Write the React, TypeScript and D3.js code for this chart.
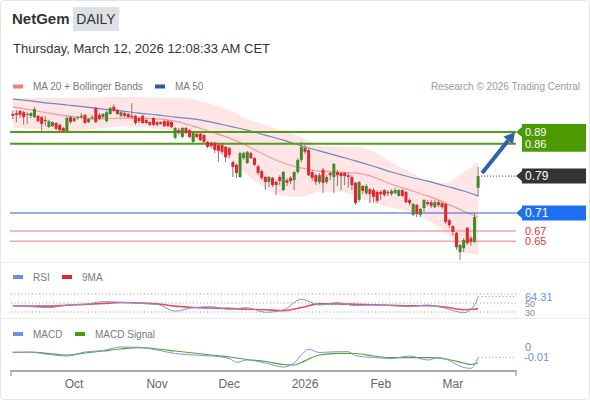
import React from 'react';
import * as d3 from 'd3';

const FONT = "'Liberation Sans', Arial, Helvetica, sans-serif";

// ---- candle data (daily, Sep 8 2025 .. Mar 11 2026) ----
const openP = [0.930,0.932,0.937,0.934,0.928,0.926,0.923,0.926,0.923,0.917,
0.901,0.903,0.910,0.906,0.899,0.892,0.923,0.914,0.921,0.923,
0.928,0.912,0.921,0.943,0.928,0.923,0.914,0.930,0.946,0.939,
0.926,0.932,0.930,0.926,0.926,0.921,0.926,0.917,0.912,0.921,
0.912,0.912,0.914,0.914,0.912,0.877,0.894,0.879,0.899,0.894,
0.868,0.886,0.886,0.883,0.868,0.866,0.866,0.861,0.861,0.857,
0.854,0.823,0.817,0.790,0.832,0.821,0.843,0.832,0.814,0.803,
0.790,0.779,0.788,0.779,0.790,0.761,0.783,0.788,0.783,0.801,
0.828,0.854,0.850,0.801,0.794,0.779,0.806,0.779,0.799,0.790,
0.801,0.799,0.799,0.794,0.790,0.777,0.739,0.770,0.754,0.763,
0.761,0.757,0.757,0.761,0.757,0.752,0.754,0.748,0.761,0.757,
0.739,0.706,0.728,0.706,0.721,0.734,0.734,0.723,0.734,0.732,
0.730,0.694,0.681,0.666,0.623,0.632,0.677,0.654,0.646,0.766];

const highP = [0.937,0.939,0.939,0.937,0.934,0.934,0.946,0.928,0.926,0.926,
0.917,0.914,0.912,0.908,0.901,0.926,0.926,0.923,0.926,0.932,
0.930,0.921,0.928,0.946,0.932,0.932,0.937,0.946,0.952,0.941,
0.937,0.934,0.932,0.954,0.928,0.923,0.928,0.919,0.914,0.923,
0.914,0.914,0.917,0.917,0.914,0.901,0.899,0.901,0.901,0.897,
0.890,0.888,0.888,0.886,0.870,0.868,0.868,0.866,0.863,0.859,
0.857,0.826,0.819,0.846,0.846,0.848,0.846,0.834,0.817,0.806,
0.792,0.792,0.790,0.783,0.794,0.803,0.788,0.792,0.803,0.832,
0.868,0.861,0.852,0.806,0.797,0.799,0.810,0.794,0.801,0.821,
0.806,0.801,0.801,0.799,0.794,0.779,0.781,0.772,0.774,0.766,
0.766,0.761,0.761,0.763,0.761,0.763,0.766,0.763,0.763,0.759,
0.743,0.732,0.730,0.721,0.741,0.739,0.739,0.739,0.739,0.734,
0.732,0.697,0.683,0.668,0.641,0.654,0.679,0.659,0.710,0.812];

const lowP = [0.919,0.912,0.921,0.906,0.908,0.921,0.921,0.912,0.892,0.903,
0.899,0.901,0.894,0.892,0.890,0.890,0.908,0.912,0.917,0.919,
0.908,0.910,0.917,0.910,0.917,0.921,0.912,0.928,0.934,0.928,
0.923,0.923,0.921,0.919,0.906,0.910,0.908,0.908,0.903,0.903,
0.903,0.906,0.901,0.901,0.899,0.874,0.883,0.877,0.886,0.877,
0.866,0.877,0.870,0.866,0.854,0.854,0.843,0.823,0.841,0.823,
0.832,0.790,0.788,0.788,0.828,0.819,0.830,0.814,0.794,0.783,
0.761,0.768,0.768,0.750,0.772,0.759,0.770,0.774,0.761,0.797,
0.823,0.841,0.792,0.781,0.772,0.774,0.754,0.774,0.783,0.754,
0.770,0.761,0.772,0.766,0.761,0.728,0.734,0.752,0.750,0.732,
0.734,0.732,0.739,0.746,0.748,0.748,0.752,0.746,0.746,0.732,
0.726,0.703,0.701,0.701,0.712,0.726,0.721,0.721,0.723,0.719,
0.686,0.677,0.659,0.628,0.606,0.623,0.639,0.637,0.643,0.746];

const closeP = [0.926,0.928,0.928,0.923,0.930,0.932,0.941,0.914,0.908,0.914,
0.914,0.912,0.897,0.894,0.892,0.921,0.912,0.921,0.923,0.926,
0.910,0.919,0.923,0.912,0.919,0.930,0.934,0.943,0.937,0.930,
0.934,0.926,0.923,0.923,0.910,0.914,0.910,0.910,0.906,0.906,
0.906,0.908,0.903,0.903,0.901,0.899,0.888,0.899,0.888,0.879,
0.888,0.879,0.872,0.868,0.857,0.859,0.850,0.848,0.846,0.834,
0.839,0.812,0.799,0.843,0.843,0.846,0.832,0.817,0.799,0.788,
0.779,0.790,0.772,0.772,0.781,0.801,0.777,0.781,0.801,0.828,
0.857,0.846,0.794,0.788,0.779,0.794,0.777,0.790,0.794,0.819,
0.794,0.792,0.792,0.790,0.772,0.732,0.779,0.759,0.770,0.752,
0.746,0.737,0.752,0.750,0.754,0.759,0.761,0.761,0.748,0.734,
0.732,0.730,0.708,0.719,0.739,0.730,0.726,0.734,0.728,0.723,
0.690,0.683,0.668,0.634,0.639,0.650,0.643,0.646,0.701,0.792];

// ---- indicator samples (candle index -> value) ----
const indSampleIdx = [0,5,10,15,20,25,30,35,40,45,50,55,60,65,70,75,80,85,90,95,100,105,110,115,120,125,129];
const ma20 = [0.946,0.939,0.932,0.926,0.921,0.919,0.921,0.921,0.919,0.914,0.903,0.890,0.877,0.859,0.839,0.821,0.810,0.803,0.801,0.799,0.790,0.774,0.761,0.748,0.732,0.714,0.701];
const ma50 = [0.963,0.959,0.954,0.950,0.946,0.941,0.937,0.932,0.928,0.923,0.919,0.912,0.903,0.894,0.883,0.872,0.859,0.848,0.837,0.826,0.814,0.801,0.790,0.781,0.770,0.759,0.748];
const bbUpper = [0.963,0.966,0.966,0.966,0.966,0.968,0.968,0.968,0.966,0.966,0.963,0.952,0.939,0.919,0.906,0.892,0.879,0.859,0.857,0.857,0.846,0.823,0.801,0.783,0.777,0.801,0.823];
const bbLower = [0.899,0.897,0.892,0.888,0.894,0.899,0.903,0.901,0.897,0.888,0.872,0.854,0.828,0.794,0.766,0.748,0.746,0.757,0.757,0.748,0.732,0.723,0.712,0.694,0.668,0.623,0.617];

const rsiIdx = [0,5,10,15,20,25,30,35,40,45,50,55,60,65,70,75,80,85,90,95,100,105,110,115,120,125,128,129];
const rsi = [44,42,39.6,45.6,47,53,51.5,49.3,47,32,39.6,41.8,36,39.6,29.3,34.4,58.2,45.6,50.7,44,45.6,44,41.8,45.6,38.2,28.5,45,64.31];
const rsiMA = [44,43,43,45,47,49,51,50,48,43,40,39,38,36,35,33,40,48,48,47,46,45,44,44,41,35,36,38];

const macdIdx = [0,5,10,15,20,25,30,35,40,45,50,55,60,62,65,70,75,78,80,82,85,90,93,95,100,105,110,115,118,120,125,127,129];
const macd = [-0.0053,-0.0053,-0.0075,-0.009,-0.005,-0.0035,0,-0.0003,-0.003,-0.0065,-0.008,-0.009,-0.0115,-0.0153,-0.013,-0.016,-0.020,-0.016,-0.008,-0.0023,-0.0055,-0.0047,-0.0047,-0.0087,-0.0105,-0.0115,-0.009,-0.013,-0.0107,-0.012,-0.0205,-0.0213,-0.0103];
const signalIdx = [0,5,10,15,20,25,30,35,40,45,50,55,60,65,70,75,78,80,82,85,90,95,100,105,110,115,120,125,127,129];
const macdSignal = [-0.0053,-0.005,-0.0065,-0.008,-0.006,-0.004,-0.002,-0.0007,-0.002,-0.004,-0.006,-0.008,-0.010,-0.0125,-0.0145,-0.0175,-0.018,-0.0155,-0.012,-0.008,-0.0063,-0.0065,-0.009,-0.0107,-0.0107,-0.0107,-0.012,-0.016,-0.0175,-0.0157];

// ---- levels & axis ----
const resistLevels = [0.89, 0.864];
const resistLabels = ['0.89', '0.86'];
const pivotLevel = 0.71;
const pivotLabel = '0.71';
const supportLevels = [0.67, 0.647];
const supportLabels = ['0.67', '0.65'];
const lastPriceLabel = '0.79';
const rsiLastLabel = '64.31';
const rsiGridLabels = ['50', '30'];
const rsiGridValues = [50, 30];
const macdZeroLabel = '0';
const macdLastLabel = '-0.01';

const monthLabels = ['Oct', 'Nov', 'Dec', '2026', 'Feb', 'Mar'];
const monthIdx = [17, 40, 60, 81, 102, 122];
const TOTAL_SLOTS = 140;

export default function App() {
  const x = d3.scaleLinear().domain([-0.5, TOTAL_SLOTS - 0.5]).range([11, 516]);
  const yP = d3.scaleLinear().domain([0.89, 0.71]).range([132, 213]);
  const yR = d3.scaleLinear().domain([30, 70]).range([312, 294]);
  const yM = d3.scaleLinear().domain([0, -0.01]).range([347, 357]);

  const n = closeP.length;
  const last = n - 1;
  const bw = 3;

  const lineP = (vals: number[], idx: number[]) =>
    d3.line<number>().x((_, i) => x(idx[i])).y((v) => yP(v)).curve(d3.curveMonotoneX)(vals) || '';
  const band = d3.area<number>()
    .x((_, i) => x(indSampleIdx[i]))
    .y0((_, i) => yP(bbLower[i]))
    .y1((_, i) => yP(bbUpper[i]))
    .curve(d3.curveMonotoneX)(bbUpper) || '';
  const lineR = (vals: number[]) =>
    d3.line<number>().x((_, i) => x(rsiIdx[i])).y((v) => yR(v)).curve(d3.curveMonotoneX)(vals) || '';
  const lineM = (vals: number[], idx: number[]) =>
    d3.line<number>().x((_, i) => x(idx[i])).y((v) => yM(v)).curve(d3.curveMonotoneX)(vals) || '';

  const lastX = x(last);
  const lastY = yP(closeP[last]);

  const labelBox = (yc: number, h: number, fill: string, key: string) => {
    const l = 522, r = 586, tip = 516;
    const t = yc - h / 2, b = yc + h / 2;
    const pts = [[l, t], [r, t], [r, b], [l, b], [l, yc + 5], [tip, yc], [l, yc - 5]];
    return <polygon key={key} points={pts.map((p) => p.join(',')).join(' ')} fill={fill} />;
  };

  const greenTop = yP(resistLevels[0]);
  const greenBot = yP(resistLevels[1]);

  // arrow
  const ax0 = lastX + 4, ay0 = lastY - 3;
  const ax1 = 515, ay1 = greenTop;
  const ang = Math.atan2(ay1 - ay0, ax1 - ax0);
  const hl = 11, hw = 6;
  const bx = ax1 - hl * Math.cos(ang), by = ay1 - hl * Math.sin(ang);
  const head = [
    [ax1, ay1],
    [bx + hw * Math.sin(ang), by - hw * Math.cos(ang)],
    [bx - hw * Math.sin(ang), by + hw * Math.cos(ang)],
  ];

  const legendText = { fontFamily: FONT, fontSize: 10, fill: '#7a7a7a' } as const;
  const rsiLastY = yR(rsi[rsi.length - 1]);

  return (
    <svg width={590} height={400} style={{ position: 'absolute', left: 0, top: 0, background: '#fff' }}>
      <rect x={0.5} y={0.5} width={589} height={399} rx={3} fill="#fff" stroke="#e3e7ec" />
      {/* header */}
      <text x={12} y={24} fontFamily={FONT} fontSize={15} fontWeight="bold" fill="#333">NetGem</text>
      <rect x={73} y={7} width={46} height={24} fill="#dde1e6" rx={1} />
      <text x={96} y={24} textAnchor="middle" fontFamily={FONT} fontSize={14} fill="#333">DAILY</text>
      <text x={13} y={53} fontFamily={FONT} fontSize={13} fill="#333">Thursday, March 12, 2026 12:08:33 AM CET</text>

      {/* price legend */}
      <rect x={13} y={84.5} width={10} height={4} fill="#f47c7c" />
      <text x={33} y={90} {...legendText}>MA 20 + Bollinger Bands</text>
      <rect x={155} y={84.5} width={10} height={4} fill="#2e5a9c" />
      <text x={175} y={90} {...legendText}>MA 50</text>
      <text x={580} y={90} textAnchor="end" fontFamily={FONT} fontSize={10} fill="#9a9a9a">Research © 2026 Trading Central</text>

      {/* bollinger + MAs */}
      <path d={band} fill="#ffe0e0" opacity={0.85} />
      <path d={lineP(ma20, indSampleIdx)} fill="none" stroke="#f39a9a" strokeWidth={1.2} />
      <path d={lineP(ma50, indSampleIdx)} fill="none" stroke="#6a88c0" strokeWidth={1.2} />

      {/* levels */}
      {resistLevels.map((v, i) => (
        <line key={'r' + i} x1={10} x2={516} y1={yP(v)} y2={yP(v)} stroke="#4e9f14" strokeWidth={2} />
      ))}
      <line x1={10} x2={516} y1={yP(pivotLevel)} y2={yP(pivotLevel)} stroke="#2b63d9" strokeWidth={1} />
      {supportLevels.map((v, i) => (
        <line key={'s' + i} x1={10} x2={516} y1={yP(v)} y2={yP(v)} stroke="#f6a3a3" strokeWidth={1.5} />
      ))}

      {/* candles */}
      {closeP.map((c, i) => {
        const o = openP[i];
        const up = c >= o;
        const cx = x(i);
        const top = yP(Math.max(o, c));
        const bot = yP(Math.min(o, c));
        return (
          <g key={'c' + i}>
            <line x1={cx} x2={cx} y1={yP(highP[i])} y2={yP(lowP[i])} stroke="#857a7a" strokeWidth={1} />
            <rect x={cx - bw / 2} y={top} width={bw} height={Math.max(1, bot - top)} fill={up ? '#3d8b2a' : '#e2262b'} />
          </g>
        );
      })}

      {/* last price dotted */}
      <line x1={lastX + 3} x2={516} y1={lastY} y2={lastY} stroke="#333" strokeWidth={1} strokeDasharray="1,2" />

      {/* arrow */}
      <line x1={ax0} y1={ay0} x2={bx} y2={by} stroke="#2f62a8" strokeWidth={4} />
      <polygon points={head.map((p) => p.join(',')).join(' ')} fill="#2f62a8" />

      {/* right labels */}
      <polygon
        points={[[522, greenTop - 8], [586, greenTop - 8], [586, greenBot + 8], [522, greenBot + 8], [522, greenTop + 5], [516, greenTop], [522, greenTop - 5]].map((p) => p.join(',')).join(' ')}
        fill="#4a9a00"
      />
      {resistLabels.map((t, i) => (
        <text key={'rl' + i} x={525} y={yP(resistLevels[i]) + 4} fontFamily={FONT} fontSize={11} fill="#fff">{t}</text>
      ))}
      {labelBox(lastY, 15, '#333333', 'lastbox')}
      <text x={525} y={lastY + 4} fontFamily={FONT} fontSize={12} fill="#fff">{lastPriceLabel}</text>
      {labelBox(yP(pivotLevel), 15, '#1f6ff2', 'pivbox')}
      <text x={525} y={yP(pivotLevel) + 4} fontFamily={FONT} fontSize={12} fill="#fff">{pivotLabel}</text>
      {supportLabels.map((t, i) => (
        <text key={'sl' + i} x={525} y={yP(supportLevels[i]) + 4} fontFamily={FONT} fontSize={11} fill="#e8312f">{t}</text>
      ))}

      {/* separators */}
      <line x1={0} x2={590} y1={262.5} y2={262.5} stroke="#e6e9ee" />
      <line x1={0} x2={590} y1={318.5} y2={318.5} stroke="#e6e9ee" />

      {/* RSI */}
      <rect x={13} y={275} width={10} height={4} fill="#6d8fe8" />
      <text x={33} y={281} {...legendText}>RSI</text>
      <rect x={62} y={275} width={10} height={4} fill="#e8202a" />
      <text x={82} y={281} {...legendText}>9MA</text>
      {[70, 50, 30].map((v) => (
        <line key={'rg' + v} x1={11} x2={516} y1={yR(v)} y2={yR(v)} stroke="#9a9a9a" strokeWidth={1} strokeDasharray="1,2.5" />
      ))}
      {rsiGridLabels.map((t, i) => (
        <text key={'rgl' + i} x={525} y={yR(rsiGridValues[i]) + 3.5} fontFamily={FONT} fontSize={9} fill="#888">{t}</text>
      ))}
      <path d={lineR(rsiMA)} fill="none" stroke="#e8303a" strokeWidth={1.6} opacity={0.85} />
      <path d={lineR(rsi)} fill="none" stroke="#7895e6" strokeWidth={1} />
      <line x1={x(last)} x2={516} y1={rsiLastY} y2={rsiLastY} stroke="#7895e6" strokeDasharray="1,2.5" />
      <rect x={522} y={rsiLastY - 6.5} width={40} height={11} fill="#fff" />
      <text x={525} y={rsiLastY + 4} fontFamily={FONT} fontSize={11} fill="#6d8fe8">{rsiLastLabel}</text>

      {/* MACD */}
      <rect x={13} y={332} width={10} height={4} fill="#6d8fe8" />
      <text x={33} y={338} {...legendText}>MACD</text>
      <rect x={75} y={332} width={10} height={4} fill="#4a9a14" />
      <text x={95} y={338} {...legendText}>MACD Signal</text>
      <path d={lineM(macdSignal, signalIdx)} fill="none" stroke="#5aa02c" strokeWidth={1.2} />
      <path d={lineM(macd, macdIdx)} fill="none" stroke="#7895e6" strokeWidth={1} />
      <line x1={x(last)} x2={516} y1={yM(macd[macd.length - 1])} y2={yM(macd[macd.length - 1])} stroke="#7895e6" strokeDasharray="1,2.5" />
      <text x={525} y={yM(0) + 4} fontFamily={FONT} fontSize={11} fill="#888">{macdZeroLabel}</text>
      <text x={524} y={yM(macd[macd.length - 1]) + 4} fontFamily={FONT} fontSize={11} fill="#6d8fe8">{macdLastLabel}</text>

      {/* x axis */}
      <line x1={11} x2={516} y1={371} y2={371} stroke="#aaa" strokeWidth={2} />
      <line x1={11} x2={11} y1={370} y2={376} stroke="#aaa" strokeWidth={1.5} />
      <line x1={516} x2={516} y1={370} y2={376} stroke="#aaa" strokeWidth={1.5} />
      {monthLabels.map((m, i) => (
        <text key={'m' + i} x={x(monthIdx[i])} y={388} textAnchor="middle" fontFamily={FONT} fontSize={12} fill="#666">{m}</text>
      ))}
    </svg>
  );
}
